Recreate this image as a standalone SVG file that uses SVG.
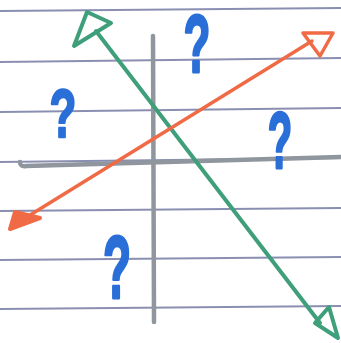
<svg xmlns="http://www.w3.org/2000/svg" width="341" height="343" viewBox="0 0 341 343">
<style>
.rule{stroke:#8a8fb2;stroke-width:1.8;fill:none}
.axis{stroke:#8f969e;stroke-width:4.5;stroke-linecap:round;fill:none}
.green{stroke:#3f9f7a;stroke-width:4;stroke-linecap:round;stroke-linejoin:round;fill:none}
.orange{stroke:#f06a45;stroke-width:3.5;stroke-linecap:round;stroke-linejoin:round;fill:none}
.q{font-family:"Liberation Sans",Arial,sans-serif;font-weight:bold;fill:#2a6fd8;stroke:#2a6fd8;stroke-width:1.5;stroke-linejoin:round;text-anchor:middle}
</style>
<rect width="341" height="343" fill="#ffffff"/>
<g id="paper">
<line class="rule" x1="0" y1="11" x2="341" y2="8"/>
<line class="rule" x1="0" y1="62" x2="341" y2="58"/>
<line class="rule" x1="0" y1="112" x2="341" y2="108"/>
<line class="rule" x1="0" y1="162" x2="341" y2="158"/>
<line class="rule" x1="0" y1="211" x2="341" y2="208"/>
<line class="rule" x1="0" y1="260" x2="341" y2="257"/>
<line class="rule" x1="0" y1="309" x2="341" y2="306"/>
</g>
<g id="axes">
<path class="axis" d="M20,162 Q20,167 26,166 L341,157"/>
<line class="axis" x1="153" y1="36" x2="154" y2="322"/>
</g>
<g id="connectors">
<g id="green-line">
<line class="green" x1="96" y1="31" x2="320" y2="323"/>
<polygon class="green" points="87,12 74,46 111,23"/>
<polygon class="green" points="315,323 329,307 338,338"/>
</g>
<g id="orange-line">
<line class="orange" x1="22" y1="220" x2="312" y2="41"/>
<polygon class="orange" points="303,33 333,33 320,56"/>
<polygon points="10,229 15,212 40,218" fill="#f06a45" stroke="#f06a45" stroke-width="4" stroke-linejoin="round"/>
</g>
</g>
<g id="q1"><text class="q" font-size="44" transform="translate(63,137) scale(1,1.55)">?</text></g>
<g id="q2"><text class="q" font-size="44" transform="translate(197,72) scale(1,1.85)">?</text></g>
<g id="q3"><text class="q" font-size="40" transform="translate(280,168) scale(1,2)">?</text></g>
<g id="q4"><text class="q" font-size="46" transform="translate(117,298) scale(1,1.95)">?</text></g>
</svg>
